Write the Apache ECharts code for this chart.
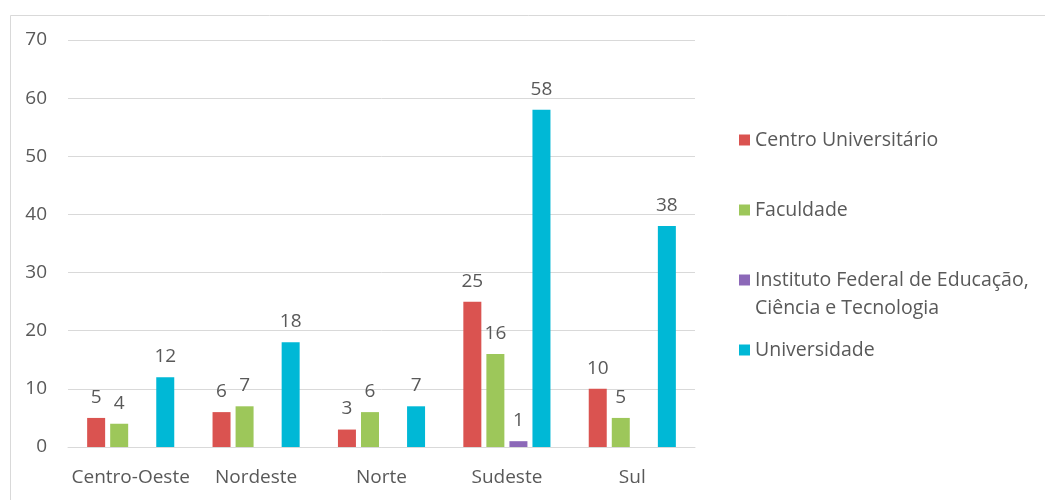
<!DOCTYPE html>
<html>
<head>
<meta charset="utf-8">
<script src="https://cdn.jsdelivr.net/npm/echarts@6/dist/echarts.min.js"></script>
<style>
html,body{margin:0;padding:0;background:#fff;}
#c{width:1045px;height:500px;}
</style>
</head>
<body>
<div id="c"></div>
<script>
const categories = ['Centro-Oeste', 'Nordeste', 'Norte', 'Sudeste', 'Sul'];
const seriesNames = ['Centro Universitário', 'Faculdade', 'Instituto Federal de Educação,\nCiência e Tecnologia', 'Universidade'];
const centroUniversitario = [5, 6, 3, 25, 10];
const faculdade = [4, 7, 6, 16, 5];
const institutoFederal = [null, null, null, 1, null];
const universidade = [12, 18, 7, 58, 38];
const colors = ['#DA5350', '#9DC75A', '#8C68B8', '#00B8D6'];
const yTicks = [0, 70, 10];

const chart = echarts.init(document.getElementById('c'), null, {renderer: 'canvas'});
const FONT = 'Open Sans';
const FS = 19;
const TXT = '#595959';
const values = [centroUniversitario, faculdade, institutoFederal, universidade];
const legendTops = [121, 191, 233, 331];

const series = values.map((v, i) => ({
  name: seriesNames[i],
  type: 'bar',
  data: v,
  barWidth: 18,
  barGap: '28%',
  itemStyle: {color: colors[i]},
  label: {
    show: true, position: 'top', distance: 11,
    color: TXT, fontSize: FS, fontFamily: FONT
  }
}));

const legends = seriesNames.map((n, i) => ({
  data: [n],
  left: 734,
  top: legendTops[i],
  orient: 'vertical',
  icon: 'rect',
  itemWidth: 11,
  itemHeight: 11,
  selectedMode: false,
  formatter: (name) => (name.indexOf('\n') >= 0 ? '\n' + name : name),
  textStyle: {color: TXT, fontSize: 19.5, fontFamily: FONT, lineHeight: 28}
}));

chart.setOption({
  animation: false,
  backgroundColor: '#fff',
  color: colors,
  graphic: [{
    type: 'rect', left: 8, top: 13, silent: true,
    shape: {width: 1050, height: 500},
    style: {fill: 'none', stroke: '#D9D9D9', lineWidth: 1}
  }],
  legend: legends,
  grid: {left: 68, right: 350, top: 40, bottom: 53, containLabel: false},
  xAxis: {
    type: 'category',
    data: categories,
    axisLine: {show: true, lineStyle: {color: '#D9D9D9', width: 1}},
    axisTick: {show: false},
    axisLabel: {color: TXT, fontSize: FS, fontFamily: FONT, margin: 21, interval: 0}
  },
  yAxis: {
    type: 'value',
    min: yTicks[0], max: yTicks[1], interval: yTicks[2],
    axisLine: {show: false},
    axisTick: {show: false},
    splitLine: {lineStyle: {color: '#D9D9D9', width: 1}},
    axisLabel: {color: TXT, fontSize: FS, fontFamily: FONT, margin: 21}
  },
  series: series
});
</script>
</body>
</html>
